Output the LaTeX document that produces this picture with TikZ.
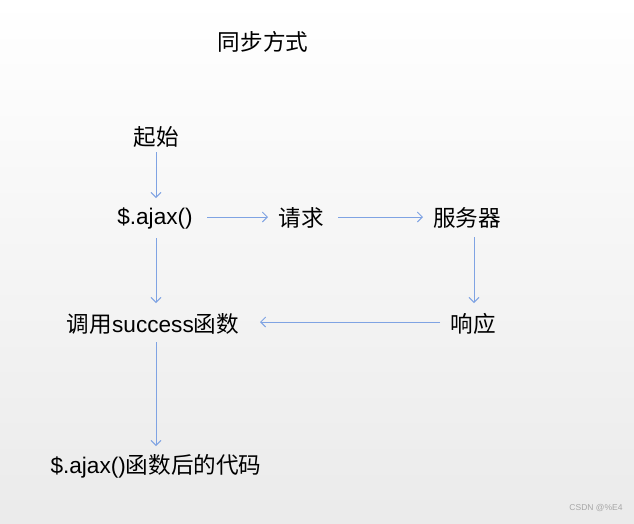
\documentclass[tikz,border=0pt]{standalone}
\usepackage{fontspec}
\setmainfont{Liberation Sans}
\newfontfamily\cjk{Noto Sans CJK SC}
\usetikzlibrary{arrows.meta}
\definecolor{arrowblue}{HTML}{7FA3E3}
\begin{document}
\begin{tikzpicture}[x=1pt,y=-1pt,
  lbl/.style={inner sep=0pt,font=\fontsize{22.6}{26}\selectfont},
  conn/.style={draw=arrowblue,line width=0.9pt,-{Straight Barb[length=5pt,width=10pt,line width=0.9pt]}}]
\shade[top color=white,bottom color=gray!16,shading angle=0] (0,0) rectangle (634,523);
\useasboundingbox (0,0) rectangle (634,523);
\node[lbl] (title) at (263,42) {\cjk 同步方式};
\node[lbl] (start) at (156,137) {\cjk 起始};
\node[lbl] (ajax) at (155,218) {\$.ajax()};
\node[lbl] (req) at (301,218) {\cjk 请求};
\node[lbl] (srv) at (467,218) {\cjk 服务器};
\node[lbl] (resp) at (473,324) {\cjk 响应};
\node[lbl] (succ) at (153,324) {{\cjk 调用}success{\cjk 函数}};
\node[lbl] (after) at (156,466) {\$.ajax(){\cjk 函数后的代码}};
\node[inner sep=0pt,text=gray!70,font=\fontsize{8.5}{10}\selectfont] (wm) at (596,508) {CSDN @\%E4};
\coordinate (a1s) at (156,152); \coordinate (a1e) at (156,198);
\coordinate (a2s) at (207,217); \coordinate (a2e) at (268,217);
\coordinate (a3s) at (338,217); \coordinate (a3e) at (423,217);
\coordinate (a4s) at (474,237); \coordinate (a4e) at (474,303);
\coordinate (a5s) at (440,322); \coordinate (a5e) at (260,322);
\coordinate (a6s) at (156,238); \coordinate (a6e) at (156,303);
\coordinate (a7s) at (156,342); \coordinate (a7e) at (156,446);
\draw[conn] (a1s) -- (a1e);
\draw[conn] (a2s) -- (a2e);
\draw[conn] (a3s) -- (a3e);
\draw[conn] (a4s) -- (a4e);
\draw[conn] (a5s) -- (a5e);
\draw[conn] (a6s) -- (a6e);
\draw[conn] (a7s) -- (a7e);
\end{tikzpicture}
\end{document}
